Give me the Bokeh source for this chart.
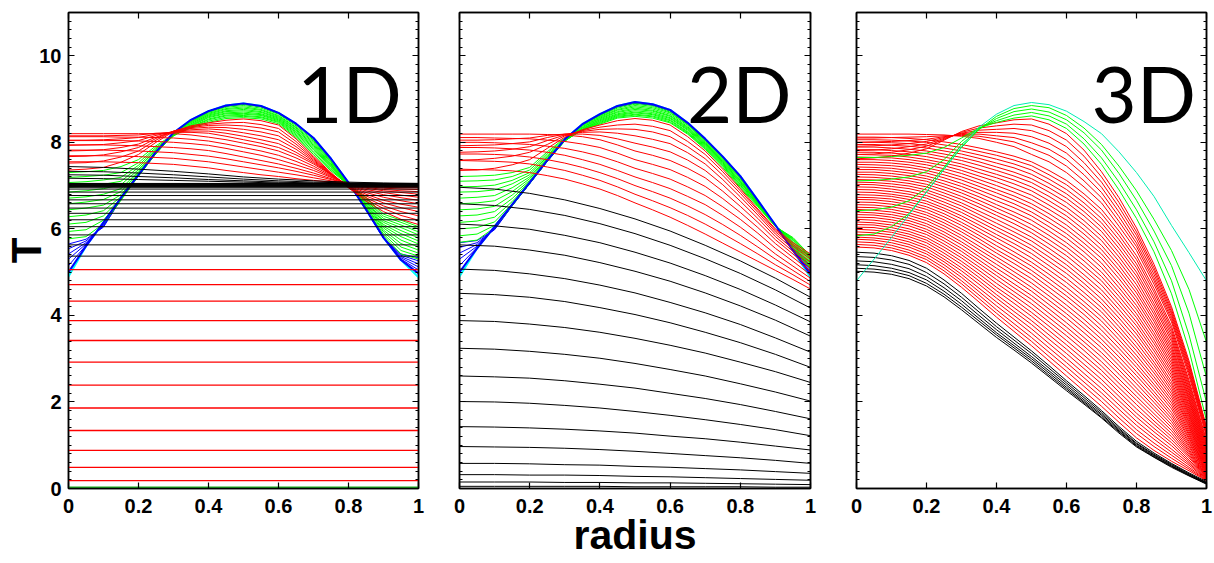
from bokeh.plotting import figure
from bokeh.layouts import row
from bokeh.models import FixedTicker, LinearAxis, CustomJSTickFormatter, Range1d
from bokeh.embed import file_html
from bokeh.resources import INLINE
from bokeh.core.properties import value

# ---------------- shared axes data ----------------
radius = [0.0, 0.05, 0.1, 0.15, 0.2, 0.25, 0.3, 0.35, 0.4, 0.45, 0.5,
          0.55, 0.6, 0.65, 0.7, 0.75, 0.8, 0.85, 0.9, 0.95, 1.0]
radius_coarse = [0.0, 0.1, 0.2, 0.3, 0.4, 0.5, 0.6, 0.7, 0.8, 0.9, 1.0]
x_ticks = [0, 0.2, 0.4, 0.6, 0.8, 1]
y_ticks = [0, 2, 4, 6, 8, 10]
panel_names = ["1D", "2D", "3D"]
x_title = "radius"
y_title = "T"

# ---------------- 1D panel ----------------
oned_cyan = [4.9, 5.6, 6.15, 6.72, 7.25, 7.78, 8.22, 8.52, 8.72, 8.85, 8.9, 8.84, 8.68, 8.43, 8.1, 7.62, 7.07, 6.45, 5.8, 5.28, 4.88]
oned_initial = [5.0, 5.6, 6.15, 6.72, 7.25, 7.78, 8.22, 8.52, 8.72, 8.85, 8.9, 8.84, 8.68, 8.43, 8.1, 7.62, 7.07, 6.45, 5.8, 5.28, 4.97]
oned_blue = [
    [5.15, 5.62, 6.13, 6.71, 7.24, 7.77, 8.22, 8.52, 8.72, 8.84, 8.89, 8.83, 8.68, 8.43, 8.1, 7.62, 7.07, 6.45, 5.8, 5.3, 5.05],
    [5.3, 5.65, 6.1, 6.71, 7.24, 7.77, 8.22, 8.51, 8.72, 8.84, 8.89, 8.83, 8.68, 8.43, 8.1, 7.62, 7.07, 6.45, 5.79, 5.33, 5.12],
    [5.42, 5.68, 6.08, 6.7, 7.23, 7.77, 8.22, 8.51, 8.72, 8.84, 8.89, 8.83, 8.68, 8.43, 8.1, 7.62, 7.07, 6.45, 5.79, 5.36, 5.19],
    [5.54, 5.72, 6.06, 6.7, 7.23, 7.77, 8.21, 8.51, 8.72, 8.84, 8.88, 8.83, 8.68, 8.43, 8.1, 7.62, 7.07, 6.45, 5.78, 5.39, 5.26],
    [5.65, 5.76, 6.04, 6.69, 7.23, 7.76, 8.21, 8.51, 8.71, 8.84, 8.88, 8.83, 8.68, 8.42, 8.09, 7.62, 7.07, 6.44, 5.78, 5.42, 5.33],
]
# rows = radius values, columns = successive green curves
oned_green_by_radius = [
    [5.77, 5.94, 6.11, 6.28, 6.44, 6.58, 6.71, 6.85, 6.96, 7.07, 7.19, 7.30],
    [5.82, 5.98, 6.15, 6.32, 6.48, 6.62, 6.74, 6.88, 6.99, 7.09, 7.21, 7.32],
    [6.12, 6.2, 6.3, 6.42, 6.55, 6.68, 6.8, 6.93, 7.03, 7.13, 7.24, 7.35],
    [6.66, 6.68, 6.7, 6.74, 6.79, 6.86, 6.93, 7.02, 7.1, 7.19, 7.3, 7.44],
    [7.22, 7.23, 7.24, 7.25, 7.27, 7.3, 7.33, 7.37, 7.42, 7.47, 7.53, 7.6],
    [7.74, 7.74, 7.74, 7.74, 7.75, 7.76, 7.77, 7.79, 7.82, 7.85, 7.88, 7.92],
    [8.2, 8.2, 8.19, 8.18, 8.17, 8.16, 8.15, 8.15, 8.15, 8.16, 8.17, 8.18],
    [8.5, 8.48, 8.47, 8.45, 8.43, 8.41, 8.39, 8.38, 8.36, 8.35, 8.34, 8.33],
    [8.71, 8.69, 8.67, 8.65, 8.63, 8.61, 8.59, 8.57, 8.54, 8.52, 8.49, 8.46],
    [8.84, 8.81, 8.78, 8.76, 8.73, 8.71, 8.68, 8.66, 8.63, 8.61, 8.58, 8.55],
    [8.88, 8.85, 8.82, 8.79, 8.76, 8.73, 8.70, 8.67, 8.65, 8.62, 8.6, 8.57],
    [8.82, 8.79, 8.76, 8.74, 8.71, 8.69, 8.66, 8.64, 8.62, 8.59, 8.57, 8.54],
    [8.67, 8.65, 8.62, 8.6, 8.58, 8.56, 8.54, 8.52, 8.5, 8.48, 8.46, 8.43],
    [8.41, 8.38, 8.35, 8.33, 8.3, 8.28, 8.25, 8.23, 8.2, 8.17, 8.14, 8.11],
    [8.08, 8.05, 8.02, 7.99, 7.96, 7.93, 7.9, 7.87, 7.84, 7.8, 7.76, 7.72],
    [7.6, 7.57, 7.55, 7.53, 7.5, 7.48, 7.46, 7.44, 7.42, 7.39, 7.37, 7.34],
    [7.07, 7.06, 7.06, 7.05, 7.05, 7.04, 7.04, 7.03, 7.03, 7.02, 7.02, 7.01],
    [6.45, 6.47, 6.5, 6.52, 6.55, 6.57, 6.6, 6.63, 6.65, 6.68, 6.71, 6.73],
    [5.84, 5.88, 5.93, 5.97, 6.02, 6.06, 6.1, 6.15, 6.19, 6.24, 6.29, 6.34],
    [5.42, 5.5, 5.58, 5.66, 5.74, 5.82, 5.89, 5.96, 6.03, 6.09, 6.15, 6.2],
    [5.3, 5.37, 5.44, 5.51, 5.58, 5.65, 5.72, 5.79, 5.86, 5.93, 6.0, 6.05],
]
oned_red = [
    [7.36, 7.38, 7.42, 7.54, 7.72, 8.0, 8.25, 8.38, 8.45, 8.51, 8.54, 8.5, 8.4, 8.08, 7.68, 7.3, 6.95, 6.64, 6.4, 6.22, 6.1],
    [7.52, 7.53, 7.57, 7.66, 7.8, 8.05, 8.26, 8.36, 8.42, 8.45, 8.46, 8.41, 8.32, 8.02, 7.65, 7.28, 6.95, 6.68, 6.47, 6.31, 6.2],
    [7.67, 7.68, 7.71, 7.78, 7.88, 8.09, 8.26, 8.34, 8.39, 8.4, 8.38, 8.33, 8.24, 7.96, 7.62, 7.27, 6.96, 6.72, 6.53, 6.4, 6.3],
    [7.8, 7.81, 7.83, 7.88, 7.96, 8.12, 8.25, 8.32, 8.35, 8.34, 8.3, 8.24, 8.15, 7.9, 7.59, 7.26, 6.97, 6.76, 6.6, 6.49, 6.4],
    [7.93, 7.94, 7.95, 7.99, 8.04, 8.16, 8.25, 8.29, 8.31, 8.28, 8.22, 8.15, 8.06, 7.84, 7.56, 7.26, 6.98, 6.8, 6.66, 6.57, 6.5],
    [8.05, 8.05, 8.06, 8.08, 8.11, 8.19, 8.24, 8.26, 8.26, 8.21, 8.14, 8.06, 7.97, 7.77, 7.53, 7.26, 6.99, 6.84, 6.73, 6.65, 6.58],
    [8.15, 8.15, 8.15, 8.16, 8.17, 8.21, 8.23, 8.23, 8.21, 8.14, 8.06, 7.98, 7.88, 7.71, 7.5, 7.25, 7.0, 6.88, 6.79, 6.72, 6.66],
    [8.2, 8.2, 8.2, 8.2, 8.2, 8.2, 8.2, 8.17, 8.12, 8.06, 7.98, 7.9, 7.8, 7.64, 7.45, 7.23, 7.01, 6.91, 6.84, 6.78, 6.73],
    [8.13, 8.13, 8.13, 8.12, 8.12, 8.11, 8.1, 8.07, 8.03, 7.96, 7.88, 7.8, 7.7, 7.56, 7.4, 7.21, 7.02, 6.94, 6.88, 6.84, 6.8],
    [8.04, 8.04, 8.04, 8.04, 8.03, 8.02, 8.0, 7.97, 7.93, 7.86, 7.78, 7.7, 7.6, 7.48, 7.35, 7.19, 7.03, 6.96, 6.91, 6.88, 6.86],
    [7.94, 7.94, 7.94, 7.93, 7.92, 7.9, 7.88, 7.85, 7.81, 7.74, 7.66, 7.58, 7.5, 7.4, 7.29, 7.16, 7.03, 6.98, 6.94, 6.92, 6.91],
    [7.82, 7.82, 7.82, 7.81, 7.8, 7.78, 7.76, 7.72, 7.68, 7.62, 7.55, 7.48, 7.41, 7.33, 7.24, 7.14, 7.04, 7.0, 6.96, 6.95, 6.95],
    [7.69, 7.69, 7.69, 7.68, 7.67, 7.65, 7.63, 7.59, 7.55, 7.49, 7.43, 7.37, 7.31, 7.25, 7.18, 7.11, 7.04, 7.01, 6.98, 6.97, 6.97],
    [7.55, 7.55, 7.55, 7.54, 7.53, 7.51, 7.49, 7.45, 7.41, 7.35, 7.3, 7.25, 7.21, 7.16, 7.12, 7.08, 7.05, 7.02, 7.0, 6.99, 6.99],
]
# coarse radius grid
oned_black_curved = [
    [7.44, 7.42, 7.38, 7.33, 7.27, 7.2, 7.15, 7.11, 7.08, 7.06, 7.05],
    [7.33, 7.32, 7.29, 7.25, 7.2, 7.15, 7.11, 7.08, 7.06, 7.05, 7.04],
    [7.25, 7.24, 7.21, 7.18, 7.14, 7.11, 7.08, 7.06, 7.05, 7.04, 7.03],
    [7.17, 7.16, 7.14, 7.12, 7.1, 7.08, 7.06, 7.05, 7.04, 7.03, 7.02],
]
oned_black_levels = [7.05, 7.04, 7.03, 7.02, 7.01, 7.0, 6.98, 6.96, 6.92, 6.85,
                     6.77, 6.67, 6.58, 6.48, 6.36, 6.21, 6.05, 5.86, 5.63, 5.37]
oned_red_levels = [5.06, 4.71, 4.33, 3.88, 3.42, 2.92, 2.39, 1.86, 1.34, 0.88, 0.49, 0.18]
oned_green_levels = [0.02]

# ---------------- 2D panel ----------------
twod_cyan = [4.9, 5.55, 6.05, 6.56, 7.07, 7.58, 8.07, 8.42, 8.65, 8.84, 8.93, 8.88, 8.75, 8.45, 8.08, 7.67, 7.22, 6.66, 6.09, 5.5, 4.88]
twod_initial = [5.0, 5.55, 6.05, 6.56, 7.07, 7.58, 8.07, 8.42, 8.65, 8.84, 8.93, 8.88, 8.75, 8.45, 8.08, 7.67, 7.22, 6.66, 6.09, 5.5, 4.95]
twod_blue = [
    [5.15, 5.57, 6.03, 6.55, 7.06, 7.57, 8.06, 8.41, 8.64, 8.83, 8.92, 8.87, 8.74, 8.44, 8.07, 7.66, 7.21, 6.65, 6.08, 5.51, 5.0],
    [5.3, 5.6, 6.01, 6.55, 7.06, 7.57, 8.06, 8.41, 8.64, 8.83, 8.91, 8.87, 8.74, 8.44, 8.07, 7.66, 7.21, 6.65, 6.08, 5.52, 5.04],
    [5.44, 5.64, 6.0, 6.54, 7.05, 7.57, 8.06, 8.41, 8.64, 8.83, 8.91, 8.87, 8.73, 8.44, 8.07, 7.66, 7.2, 6.65, 6.08, 5.54, 5.08],
    [5.57, 5.68, 5.99, 6.54, 7.05, 7.57, 8.06, 8.41, 8.64, 8.82, 8.91, 8.86, 8.73, 8.44, 8.07, 7.66, 7.2, 6.65, 6.08, 5.55, 5.12],
    [5.68, 5.73, 5.98, 6.53, 7.05, 7.56, 8.06, 8.41, 8.63, 8.82, 8.91, 8.86, 8.73, 8.44, 8.07, 7.66, 7.2, 6.65, 6.08, 5.57, 5.15],
]
twod_green_by_radius = [
    [5.69, 5.84, 6.0, 6.15, 6.3, 6.44, 6.58, 6.71, 6.85, 6.97, 7.1, 7.21],
    [5.74, 5.88, 6.03, 6.18, 6.32, 6.46, 6.6, 6.73, 6.86, 6.98, 7.11, 7.22],
    [6.03, 6.08, 6.16, 6.27, 6.4, 6.52, 6.65, 6.77, 6.9, 7.01, 7.13, 7.24],
    [6.53, 6.55, 6.58, 6.63, 6.7, 6.78, 6.86, 6.95, 7.04, 7.12, 7.21, 7.3],
    [7.05, 7.05, 7.06, 7.07, 7.09, 7.12, 7.16, 7.2, 7.25, 7.3, 7.36, 7.42],
    [7.56, 7.56, 7.56, 7.57, 7.58, 7.6, 7.62, 7.64, 7.67, 7.7, 7.74, 7.78],
    [8.06, 8.05, 8.04, 8.03, 8.03, 8.03, 8.03, 8.04, 8.05, 8.06, 8.08, 8.1],
    [8.4, 8.38, 8.36, 8.34, 8.33, 8.31, 8.3, 8.29, 8.28, 8.28, 8.28, 8.28],
    [8.64, 8.62, 8.6, 8.58, 8.56, 8.54, 8.52, 8.5, 8.48, 8.46, 8.44, 8.42],
    [8.82, 8.79, 8.76, 8.74, 8.71, 8.69, 8.66, 8.64, 8.62, 8.6, 8.58, 8.56],
    [8.91, 8.88, 8.85, 8.82, 8.79, 8.76, 8.73, 8.7, 8.68, 8.65, 8.63, 8.6],
    [8.86, 8.83, 8.8, 8.77, 8.74, 8.72, 8.69, 8.66, 8.64, 8.61, 8.59, 8.56],
    [8.73, 8.7, 8.68, 8.65, 8.62, 8.6, 8.57, 8.55, 8.52, 8.5, 8.47, 8.45],
    [8.43, 8.41, 8.39, 8.36, 8.34, 8.32, 8.3, 8.28, 8.25, 8.23, 8.21, 8.19],
    [8.06, 8.04, 8.02, 8.0, 7.98, 7.96, 7.94, 7.92, 7.9, 7.88, 7.86, 7.84],
    [7.65, 7.63, 7.61, 7.59, 7.57, 7.55, 7.53, 7.51, 7.49, 7.47, 7.45, 7.42],
    [7.21, 7.19, 7.17, 7.15, 7.12, 7.1, 7.08, 7.06, 7.03, 7.01, 6.98, 6.95],
    [6.65, 6.64, 6.63, 6.62, 6.61, 6.6, 6.59, 6.58, 6.56, 6.55, 6.53, 6.51],
    [6.09, 6.09, 6.08, 6.08, 6.08, 6.07, 6.07, 6.07, 6.06, 6.06, 6.06, 6.05],
    [5.55, 5.57, 5.6, 5.62, 5.64, 5.66, 5.69, 5.71, 5.74, 5.76, 5.78, 5.8],
    [5.07, 5.1, 5.13, 5.16, 5.19, 5.22, 5.25, 5.28, 5.31, 5.33, 5.36, 5.38],
]
twod_red = [
    [7.35, 7.36, 7.4, 7.48, 7.6, 7.86, 8.12, 8.29, 8.4, 8.5, 8.55, 8.51, 8.4, 8.13, 7.8, 7.38, 6.93, 6.46, 6.0, 5.68, 5.42],
    [7.59, 7.6, 7.63, 7.68, 7.77, 7.95, 8.15, 8.27, 8.35, 8.4, 8.42, 8.37, 8.27, 8.02, 7.72, 7.32, 6.88, 6.43, 5.97, 5.64, 5.36],
    [7.77, 7.78, 7.8, 7.84, 7.9, 8.04, 8.17, 8.25, 8.3, 8.31, 8.3, 8.24, 8.13, 7.9, 7.62, 7.24, 6.82, 6.38, 5.93, 5.6, 5.3],
    [7.92, 7.93, 7.94, 7.97, 8.01, 8.11, 8.19, 8.23, 8.24, 8.21, 8.15, 8.07, 7.97, 7.76, 7.5, 7.14, 6.74, 6.32, 5.88, 5.54, 5.23],
    [8.05, 8.05, 8.06, 8.08, 8.1, 8.16, 8.19, 8.19, 8.16, 8.08, 7.98, 7.89, 7.78, 7.59, 7.35, 7.02, 6.64, 6.24, 5.82, 5.48, 5.16],
    [8.19, 8.19, 8.19, 8.19, 8.19, 8.18, 8.17, 8.13, 8.06, 7.94, 7.8, 7.7, 7.58, 7.4, 7.18, 6.87, 6.52, 6.15, 5.75, 5.42, 5.09],
    [8.11, 8.11, 8.1, 8.09, 8.08, 8.05, 8.02, 7.96, 7.88, 7.75, 7.6, 7.49, 7.37, 7.19, 6.98, 6.7, 6.38, 6.03, 5.66, 5.34, 5.02],
    [8.0, 8.0, 7.99, 7.97, 7.95, 7.91, 7.86, 7.78, 7.68, 7.55, 7.4, 7.28, 7.15, 6.97, 6.77, 6.51, 6.22, 5.9, 5.55, 5.25, 4.94],
    [7.88, 7.88, 7.87, 7.85, 7.82, 7.77, 7.7, 7.6, 7.49, 7.35, 7.2, 7.07, 6.93, 6.75, 6.56, 6.31, 6.04, 5.74, 5.42, 5.14, 4.86],
    [7.73, 7.73, 7.72, 7.7, 7.66, 7.6, 7.52, 7.42, 7.3, 7.16, 7.0, 6.86, 6.71, 6.53, 6.33, 6.1, 5.85, 5.58, 5.3, 5.04, 4.78],
    [7.58, 7.57, 7.56, 7.54, 7.5, 7.43, 7.35, 7.24, 7.12, 6.97, 6.8, 6.65, 6.49, 6.31, 6.11, 5.89, 5.66, 5.42, 5.17, 4.94, 4.7],
    [7.38, 7.37, 7.36, 7.34, 7.3, 7.23, 7.15, 7.04, 6.92, 6.77, 6.6, 6.44, 6.27, 6.08, 5.88, 5.67, 5.46, 5.25, 5.04, 4.83, 4.61],
]
# coarse radius grid
twod_black = [
    [6.96, 6.92, 6.82, 6.67, 6.47, 6.23, 5.95, 5.62, 5.26, 4.86, 4.42],
    [6.58, 6.54, 6.45, 6.31, 6.12, 5.89, 5.62, 5.31, 4.97, 4.59, 4.17],
    [6.11, 6.07, 5.99, 5.85, 5.68, 5.46, 5.21, 4.92, 4.6, 4.24, 3.85],
    [5.63, 5.6, 5.51, 5.39, 5.22, 5.02, 4.79, 4.52, 4.22, 3.89, 3.52],
    [5.07, 5.04, 4.96, 4.85, 4.7, 4.52, 4.3, 4.06, 3.79, 3.48, 3.15],
    [4.51, 4.48, 4.42, 4.32, 4.18, 4.02, 3.83, 3.61, 3.37, 3.1, 2.8],
    [3.88, 3.86, 3.8, 3.72, 3.61, 3.47, 3.31, 3.13, 2.92, 2.7, 2.45],
    [3.24, 3.22, 3.17, 3.1, 3.01, 2.89, 2.75, 2.6, 2.42, 2.23, 2.02],
    [2.6, 2.58, 2.55, 2.49, 2.41, 2.32, 2.2, 2.08, 1.94, 1.78, 1.61],
    [2.01, 2.0, 1.97, 1.92, 1.86, 1.78, 1.69, 1.59, 1.48, 1.36, 1.22],
    [1.43, 1.42, 1.4, 1.37, 1.33, 1.28, 1.21, 1.15, 1.07, 0.98, 0.89],
    [0.97, 0.96, 0.95, 0.93, 0.9, 0.86, 0.81, 0.76, 0.71, 0.65, 0.58],
    [0.58, 0.58, 0.57, 0.55, 0.54, 0.51, 0.49, 0.46, 0.43, 0.39, 0.35],
    [0.32, 0.32, 0.31, 0.31, 0.3, 0.28, 0.27, 0.25, 0.23, 0.21, 0.19],
    [0.15, 0.15, 0.15, 0.14, 0.14, 0.13, 0.13, 0.12, 0.11, 0.1, 0.09],
    [0.05, 0.05, 0.05, 0.05, 0.05, 0.04, 0.04, 0.04, 0.04, 0.03, 0.03],
]

# ---------------- 3D panel ----------------
threed_initial = [4.8, 5.3, 5.8, 6.33, 6.85, 7.38, 7.9, 8.35, 8.65, 8.85, 8.92, 8.87, 8.72, 8.48, 8.2, 7.78, 7.3, 6.75, 6.08, 5.45, 4.8]
threed_green = [
    [5.84, 5.88, 6.05, 6.35, 6.85, 7.38, 7.88, 8.3, 8.6, 8.78, 8.85, 8.8, 8.62, 8.33, 7.95, 7.45, 6.88, 6.22, 5.5, 4.6, 3.38],
    [6.42, 6.44, 6.5, 6.65, 6.95, 7.42, 7.95, 8.3, 8.55, 8.71, 8.77, 8.7, 8.52, 8.22, 7.82, 7.28, 6.66, 5.95, 5.15, 4.05, 2.57],
    [7.11, 7.12, 7.15, 7.2, 7.32, 7.6, 8.02, 8.33, 8.5, 8.63, 8.69, 8.61, 8.42, 8.08, 7.64, 7.08, 6.44, 5.7, 4.8, 3.55, 1.99],
    [7.65, 7.65, 7.67, 7.7, 7.75, 7.88, 8.1, 8.33, 8.46, 8.56, 8.61, 8.52, 8.32, 7.96, 7.49, 6.9, 6.24, 5.47, 4.5, 3.2, 1.57],
]
threed_red_early_by_radius = [
    [7.62, 7.72, 7.81, 7.91, 8.0, 8.1, 8.19],
    [7.64, 7.73, 7.82, 7.92, 8.01, 8.1, 8.19],
    [7.68, 7.77, 7.85, 7.94, 8.02, 8.11, 8.19],
    [7.75, 7.83, 7.9, 7.97, 8.04, 8.12, 8.19],
    [7.85, 7.91, 7.96, 8.02, 8.07, 8.13, 8.18],
    [8.05, 8.07, 8.09, 8.11, 8.13, 8.15, 8.17],
    [8.25, 8.23, 8.21, 8.2, 8.18, 8.16, 8.14],
    [8.38, 8.33, 8.28, 8.23, 8.19, 8.14, 8.09],
    [8.45, 8.38, 8.3, 8.23, 8.15, 8.08, 8.0],
    [8.52, 8.42, 8.32, 8.21, 8.11, 8.01, 7.9],
    [8.54, 8.4, 8.27, 8.13, 7.99, 7.86, 7.72],
    [8.42, 8.27, 8.13, 7.98, 7.84, 7.7, 7.55],
    [8.2, 8.05, 7.9, 7.75, 7.6, 7.45, 7.3],
    [7.82, 7.68, 7.53, 7.39, 7.25, 7.11, 6.97],
    [7.32, 7.2, 7.08, 6.96, 6.84, 6.72, 6.6],
    [6.72, 6.61, 6.5, 6.39, 6.28, 6.17, 6.06],
    [6.02, 5.93, 5.85, 5.76, 5.67, 5.59, 5.5],
    [5.18, 5.1, 5.03, 4.95, 4.87, 4.8, 4.72],
    [4.2, 4.14, 4.08, 4.03, 3.97, 3.91, 3.85],
    [2.95, 2.89, 2.84, 2.78, 2.72, 2.67, 2.6],
    [1.42, 1.38, 1.35, 1.31, 1.27, 1.24, 1.2],
]
threed_red_late_by_radius = [
    [8.12, 8.06, 8.0, 7.95, 7.89, 7.83, 7.77, 7.72, 7.66, 7.6, 7.54, 7.49, 7.43, 7.37, 7.31, 7.26, 7.2, 7.14, 7.08, 7.03, 6.97, 6.91, 6.85, 6.79, 6.73, 6.68, 6.62, 6.56, 6.5, 6.45, 6.39, 6.33, 6.27, 6.22, 6.16, 6.1, 6.04, 5.99, 5.93, 5.87, 5.81, 5.76, 5.7, 5.64, 5.58],
    [8.12, 8.06, 8.0, 7.95, 7.89, 7.83, 7.77, 7.71, 7.65, 7.6, 7.54, 7.48, 7.42, 7.37, 7.31, 7.25, 7.19, 7.13, 7.07, 7.02, 6.96, 6.9, 6.84, 6.78, 6.72, 6.67, 6.61, 6.55, 6.49, 6.43, 6.37, 6.32, 6.26, 6.2, 6.14, 6.09, 6.03, 5.97, 5.91, 5.85, 5.79, 5.74, 5.68, 5.62, 5.56],
    [8.11, 8.05, 7.99, 7.93, 7.87, 7.81, 7.75, 7.7, 7.64, 7.58, 7.52, 7.46, 7.4, 7.34, 7.28, 7.22, 7.16, 7.1, 7.04, 6.98, 6.92, 6.86, 6.8, 6.75, 6.69, 6.63, 6.57, 6.51, 6.45, 6.39, 6.33, 6.27, 6.21, 6.15, 6.09, 6.03, 5.97, 5.92, 5.86, 5.8, 5.74, 5.68, 5.62, 5.56, 5.5],
    [8.09, 8.03, 7.97, 7.91, 7.84, 7.78, 7.72, 7.66, 7.6, 7.54, 7.48, 7.42, 7.35, 7.29, 7.23, 7.17, 7.11, 7.05, 6.99, 6.93, 6.86, 6.8, 6.74, 6.68, 6.62, 6.56, 6.5, 6.44, 6.37, 6.31, 6.25, 6.19, 6.13, 6.07, 6.0, 5.94, 5.88, 5.82, 5.76, 5.7, 5.64, 5.58, 5.51, 5.45, 5.39],
    [8.06, 8.0, 7.93, 7.87, 7.8, 7.74, 7.67, 7.6, 7.54, 7.48, 7.41, 7.35, 7.29, 7.22, 7.16, 7.1, 7.03, 6.97, 6.9, 6.84, 6.77, 6.71, 6.64, 6.58, 6.51, 6.45, 6.38, 6.32, 6.25, 6.19, 6.12, 6.06, 5.99, 5.93, 5.87, 5.8, 5.74, 5.68, 5.61, 5.55, 5.48, 5.42, 5.35, 5.29, 5.22],
    [8.01, 7.94, 7.87, 7.8, 7.73, 7.66, 7.59, 7.52, 7.46, 7.39, 7.32, 7.25, 7.18, 7.11, 7.04, 6.97, 6.9, 6.83, 6.76, 6.69, 6.62, 6.55, 6.48, 6.42, 6.35, 6.28, 6.21, 6.14, 6.07, 6.0, 5.93, 5.86, 5.79, 5.72, 5.65, 5.58, 5.51, 5.44, 5.37, 5.3, 5.24, 5.17, 5.1, 5.03, 4.96],
    [7.95, 7.88, 7.8, 7.73, 7.65, 7.58, 7.5, 7.43, 7.35, 7.28, 7.2, 7.13, 7.05, 6.98, 6.9, 6.83, 6.75, 6.68, 6.6, 6.53, 6.45, 6.38, 6.3, 6.23, 6.15, 6.08, 6.0, 5.93, 5.85, 5.78, 5.7, 5.63, 5.55, 5.48, 5.4, 5.33, 5.25, 5.18, 5.1, 5.03, 4.95, 4.88, 4.8, 4.73, 4.65],
    [7.87, 7.79, 7.71, 7.63, 7.55, 7.47, 7.38, 7.3, 7.22, 7.14, 7.06, 6.98, 6.9, 6.82, 6.74, 6.66, 6.58, 6.5, 6.41, 6.33, 6.25, 6.17, 6.09, 6.01, 5.93, 5.85, 5.77, 5.69, 5.6, 5.52, 5.44, 5.36, 5.28, 5.2, 5.12, 5.04, 4.96, 4.88, 4.8, 4.72, 4.63, 4.55, 4.47, 4.39, 4.31],
    [7.78, 7.7, 7.61, 7.52, 7.43, 7.35, 7.26, 7.18, 7.09, 7.0, 6.91, 6.83, 6.74, 6.65, 6.56, 6.48, 6.39, 6.31, 6.22, 6.13, 6.04, 5.96, 5.87, 5.79, 5.7, 5.61, 5.52, 5.44, 5.35, 5.27, 5.18, 5.09, 5.0, 4.92, 4.83, 4.74, 4.65, 4.57, 4.48, 4.4, 4.31, 4.22, 4.13, 4.05, 3.96],
    [7.68, 7.59, 7.5, 7.41, 7.31, 7.22, 7.13, 7.04, 6.94, 6.85, 6.76, 6.67, 6.58, 6.49, 6.39, 6.3, 6.21, 6.12, 6.02, 5.93, 5.84, 5.75, 5.66, 5.57, 5.47, 5.38, 5.29, 5.2, 5.1, 5.01, 4.92, 4.83, 4.73, 4.64, 4.55, 4.46, 4.37, 4.28, 4.18, 4.09, 4.0, 3.91, 3.81, 3.72, 3.63],
    [7.55, 7.46, 7.36, 7.26, 7.16, 7.07, 6.97, 6.88, 6.78, 6.68, 6.58, 6.49, 6.39, 6.3, 6.2, 6.1, 6.0, 5.91, 5.81, 5.72, 5.62, 5.53, 5.43, 5.33, 5.23, 5.14, 5.04, 4.95, 4.85, 4.75, 4.65, 4.56, 4.46, 4.37, 4.27, 4.17, 4.07, 3.98, 3.88, 3.79, 3.69, 3.59, 3.49, 3.4, 3.3],
    [7.35, 7.25, 7.15, 7.05, 6.95, 6.85, 6.75, 6.65, 6.55, 6.45, 6.35, 6.25, 6.15, 6.05, 5.95, 5.85, 5.75, 5.65, 5.55, 5.45, 5.35, 5.25, 5.15, 5.05, 4.95, 4.85, 4.75, 4.65, 4.55, 4.45, 4.35, 4.25, 4.15, 4.05, 3.95, 3.85, 3.75, 3.65, 3.55, 3.45, 3.35, 3.25, 3.15, 3.05, 2.95],
    [7.12, 7.02, 6.91, 6.81, 6.71, 6.61, 6.5, 6.4, 6.3, 6.2, 6.09, 5.99, 5.89, 5.79, 5.68, 5.58, 5.48, 5.38, 5.27, 5.17, 5.07, 4.97, 4.86, 4.76, 4.65, 4.55, 4.45, 4.35, 4.24, 4.14, 4.04, 3.94, 3.83, 3.73, 3.63, 3.53, 3.42, 3.32, 3.22, 3.12, 3.01, 2.91, 2.81, 2.71, 2.6],
    [6.81, 6.71, 6.6, 6.5, 6.4, 6.3, 6.19, 6.09, 5.98, 5.88, 5.77, 5.67, 5.57, 5.47, 5.36, 5.26, 5.15, 5.05, 4.94, 4.84, 4.74, 4.64, 4.53, 4.43, 4.32, 4.22, 4.12, 4.02, 3.91, 3.81, 3.7, 3.6, 3.49, 3.39, 3.29, 3.19, 3.08, 2.98, 2.87, 2.77, 2.66, 2.56, 2.46, 2.36, 2.25],
    [6.45, 6.35, 6.24, 6.14, 6.04, 5.94, 5.83, 5.73, 5.62, 5.52, 5.42, 5.32, 5.21, 5.11, 5.0, 4.9, 4.8, 4.7, 4.59, 4.49, 4.38, 4.28, 4.18, 4.08, 3.97, 3.87, 3.76, 3.66, 3.55, 3.45, 3.35, 3.25, 3.14, 3.04, 2.93, 2.83, 2.73, 2.63, 2.52, 2.42, 2.31, 2.21, 2.11, 2.01, 1.9],
    [5.95, 5.85, 5.75, 5.65, 5.55, 5.45, 5.35, 5.25, 5.15, 5.05, 4.95, 4.85, 4.74, 4.64, 4.54, 4.44, 4.34, 4.24, 4.14, 4.04, 3.94, 3.84, 3.74, 3.64, 3.54, 3.44, 3.34, 3.24, 3.14, 3.04, 2.94, 2.84, 2.74, 2.64, 2.53, 2.43, 2.33, 2.23, 2.13, 2.03, 1.93, 1.83, 1.73, 1.63, 1.53],
    [5.38, 5.29, 5.19, 5.1, 5.0, 4.91, 4.81, 4.71, 4.61, 4.52, 4.42, 4.33, 4.23, 4.14, 4.04, 3.95, 3.85, 3.76, 3.66, 3.57, 3.47, 3.37, 3.27, 3.18, 3.08, 2.99, 2.89, 2.8, 2.7, 2.61, 2.51, 2.42, 2.32, 2.23, 2.13, 2.04, 1.94, 1.84, 1.74, 1.65, 1.55, 1.46, 1.36, 1.27, 1.17],
    [4.62, 4.54, 4.45, 4.37, 4.28, 4.2, 4.11, 4.03, 3.94, 3.86, 3.77, 3.69, 3.6, 3.52, 3.43, 3.35, 3.26, 3.18, 3.09, 3.01, 2.92, 2.84, 2.75, 2.67, 2.58, 2.5, 2.41, 2.33, 2.24, 2.16, 2.07, 1.99, 1.9, 1.82, 1.73, 1.65, 1.56, 1.48, 1.39, 1.31, 1.22, 1.14, 1.05, 0.97, 0.88],
    [3.75, 3.68, 3.61, 3.54, 3.47, 3.4, 3.32, 3.25, 3.18, 3.11, 3.04, 2.97, 2.9, 2.83, 2.76, 2.69, 2.62, 2.55, 2.47, 2.4, 2.33, 2.26, 2.19, 2.12, 2.05, 1.98, 1.91, 1.84, 1.76, 1.69, 1.62, 1.55, 1.48, 1.41, 1.34, 1.27, 1.2, 1.13, 1.06, 0.99, 0.91, 0.84, 0.77, 0.7, 0.63],
    [2.5, 2.44, 2.38, 2.32, 2.26, 2.21, 2.15, 2.1, 2.05, 2.0, 1.94, 1.89, 1.84, 1.79, 1.74, 1.7, 1.65, 1.6, 1.55, 1.51, 1.46, 1.42, 1.37, 1.32, 1.27, 1.23, 1.18, 1.14, 1.09, 1.05, 1.0, 0.96, 0.91, 0.87, 0.83, 0.79, 0.75, 0.71, 0.66, 0.62, 0.58, 0.54, 0.49, 0.45, 0.41],
    [1.12, 1.08, 1.03, 0.99, 0.95, 0.92, 0.88, 0.85, 0.81, 0.78, 0.75, 0.72, 0.69, 0.67, 0.64, 0.62, 0.59, 0.57, 0.54, 0.52, 0.5, 0.48, 0.46, 0.44, 0.42, 0.41, 0.39, 0.38, 0.36, 0.35, 0.33, 0.32, 0.3, 0.29, 0.28, 0.27, 0.26, 0.25, 0.24, 0.23, 0.22, 0.21, 0.2, 0.19, 0.18],
]
threed_black = [
    [5.46, 5.44, 5.38, 5.27, 5.09, 4.82, 4.51, 4.16, 3.82, 3.5, 3.18, 2.84, 2.49, 2.15, 1.8, 1.43, 1.09, 0.82, 0.58, 0.36, 0.16],
    [5.36, 5.34, 5.28, 5.18, 4.99, 4.73, 4.42, 4.08, 3.74, 3.43, 3.12, 2.78, 2.44, 2.1, 1.76, 1.39, 1.05, 0.79, 0.56, 0.34, 0.14],
    [5.26, 5.24, 5.18, 5.08, 4.9, 4.64, 4.34, 4.0, 3.67, 3.36, 3.05, 2.72, 2.39, 2.05, 1.72, 1.36, 1.03, 0.77, 0.54, 0.32, 0.13],
    [5.17, 5.15, 5.09, 4.99, 4.82, 4.56, 4.26, 3.93, 3.6, 3.3, 3.0, 2.67, 2.34, 2.01, 1.69, 1.33, 1.0, 0.75, 0.52, 0.31, 0.12],
    [5.09, 5.07, 5.02, 4.92, 4.74, 4.49, 4.19, 3.87, 3.55, 3.25, 2.95, 2.62, 2.3, 1.98, 1.65, 1.31, 0.98, 0.73, 0.51, 0.3, 0.11],
    [5.02, 5.0, 4.95, 4.85, 4.68, 4.43, 4.13, 3.81, 3.49, 3.2, 2.9, 2.58, 2.26, 1.95, 1.63, 1.28, 0.96, 0.72, 0.49, 0.29, 0.1],
]

BLUE, GREEN, RED, CYAN, TEAL = "#0000ff", "#00ff00", "#ff0000", "#00ffff", "#00eeb0"
FONT = "Liberation Sans"


def by_radius(table):
    return [list(c) for c in zip(*table)]


def add_curves(p, curves, color, width=1.0, xs=radius):
    p.multi_line(xs=[xs] * len(curves), ys=curves, line_color=color, line_width=width)


def add_levels(p, levels, color, width=1.0):
    p.multi_line(xs=[[radius[0], radius[-1]]] * len(levels), ys=[[v, v] for v in levels],
                 line_color=color, line_width=width)


def style_axis(ax, show_labels, standoff=10):
    ax.axis_line_color = "black"
    ax.axis_line_width = 1.5
    ax.major_tick_in = 6
    ax.major_tick_out = 0
    ax.minor_tick_in = 3
    ax.minor_tick_out = 0
    ax.major_tick_line_color = "black"
    ax.minor_tick_line_color = "black"
    ax.major_tick_line_width = 1.2
    if show_labels:
        ax.formatter = CustomJSTickFormatter(code="return tick.toString();")
        ax.major_label_text_font = FONT
        ax.major_label_text_font_style = "bold"
        ax.major_label_text_font_size = "20px"
        ax.major_label_text_color = "black"
        ax.major_label_standoff = standoff
    else:
        ax.formatter = CustomJSTickFormatter(code="return '';")
        ax.major_label_text_font_size = "0px"
        ax.major_label_standoff = 0


def set_title(ax, text, size, standoff):
    ax.axis_label = text
    ax.axis_label_text_font = FONT
    ax.axis_label_text_font_style = "bold"
    ax.axis_label_text_font_size = size
    ax.axis_label_text_color = "black"
    ax.axis_label_standoff = standoff


def make_panel(b_left, frame_w, b_right, y_labels, name, name_x, xlab=None, ylab=None):
    p = figure(frame_width=frame_w, frame_height=476, x_range=Range1d(0, 1), y_range=Range1d(0, 11),
               x_axis_type=None, y_axis_type=None, output_backend="svg", toolbar_location=None,
               min_border_left=b_left, min_border_right=b_right, min_border_top=12, min_border_bottom=75)
    p.outline_line_color = "black"
    p.outline_line_width = 1.5
    p.background_fill_color = "white"
    p.border_fill_color = "white"
    y_minor = [i * 0.2 for i in range(56) if i % 10 != 0]
    bottom = LinearAxis(ticker=FixedTicker(ticks=x_ticks, minor_ticks=[]))
    style_axis(bottom, True, 10)
    if xlab:
        set_title(bottom, xlab, "41px", -4)
    top = LinearAxis(ticker=FixedTicker(ticks=x_ticks, minor_ticks=[]))
    style_axis(top, False)
    left = LinearAxis(ticker=FixedTicker(ticks=y_ticks, minor_ticks=y_minor))
    style_axis(left, y_labels, 7)
    if ylab:
        set_title(left, ylab, "42px", -14)
    right = LinearAxis(ticker=FixedTicker(ticks=y_ticks, minor_ticks=y_minor))
    style_axis(right, False)
    p.add_layout(bottom, "below")
    p.add_layout(left, "left")
    p.add_layout(top, "above")
    p.add_layout(right, "right")
    p.text(x=[name_x], y=[9.15], text=[name], text_font=value("Lato"), text_font_size=value("78px"),
           text_align="right", text_baseline="alphabetic", text_color="black")
    return p


# ---- panel 1 ----
p1 = make_panel(67, 350, 20, True, panel_names[0], 0.952, ylab=y_title)
add_curves(p1, [oned_cyan], CYAN, 2)
add_curves(p1, oned_blue, BLUE)
add_curves(p1, by_radius(oned_green_by_radius), GREEN)
add_curves(p1, [oned_initial], BLUE, 2)
add_curves(p1, oned_red, RED)
add_curves(p1, oned_black_curved, "black", 1.0, radius_coarse)
add_levels(p1, oned_black_levels, "black")
add_levels(p1, oned_red_levels, RED, 1.3)
add_levels(p1, oned_green_levels, "#22aa22", 2.5)

# ---- panel 2 ----
p2 = make_panel(21, 351, 20, False, panel_names[1], 0.946, xlab=x_title)
add_curves(p2, [twod_cyan], CYAN, 2)
add_curves(p2, twod_blue, BLUE)
add_curves(p2, by_radius(twod_green_by_radius), GREEN)
add_curves(p2, [twod_initial], BLUE, 2)
add_curves(p2, twod_red, RED)
add_curves(p2, twod_black, "black", 1.0, radius_coarse)

# ---- panel 3 ----
p3 = make_panel(26, 350, 11, False, panel_names[2], 0.97)
add_curves(p3, by_radius(threed_red_early_by_radius), RED)
add_curves(p3, by_radius(threed_red_late_by_radius), RED)
add_curves(p3, threed_black, "black")
add_curves(p3, threed_green, GREEN)
add_curves(p3, [threed_initial], TEAL)

layout = row(p1, p2, p3)
open("out.html", "w").write(file_html(layout, INLINE))
